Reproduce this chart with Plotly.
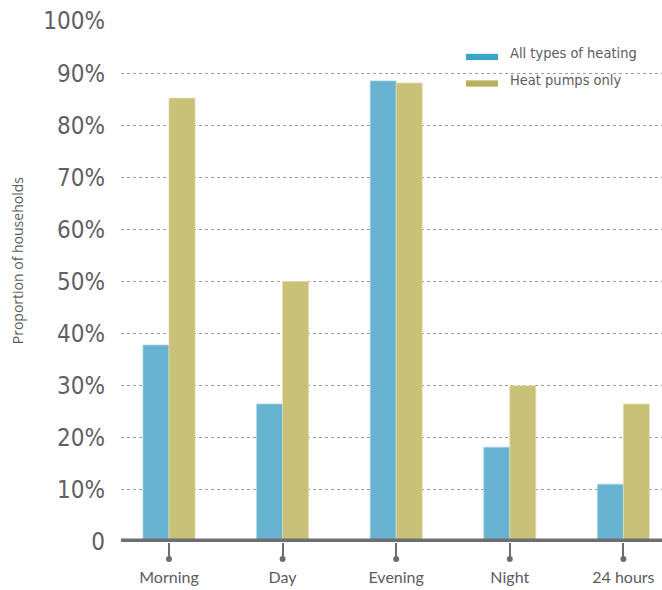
import plotly.graph_objects as go

categories = ["Morning", "Day", "Evening", "Night", "24 hours"]
all_heating = [37.8, 26.5, 88.5, 18.2, 11.1]
heat_pumps = [85.2, 50.0, 88.1, 30.0, 26.5]
series_names = ["All types of heating", "Heat pumps only"]
y_tickvals = [0, 10, 20, 30, 40, 50, 60, 70, 80, 90, 100]
y_ticktext = ["0", "10%", "20%", "30%", "40%", "50%", "60%", "70%", "80%", "90%", "100%"]

BAR_BLUE = "#67b3d1"
BAR_OLIVE = "#c8c177"
KEY_BLUE = "#3ca6c9"
KEY_OLIVE = "#b9b05c"
AXIS_GREY = "#6d6e71"
TEXT_GREY = "#5b5c5e"
COND = "Liberation Sans Narrow, DejaVu Sans Condensed, Roboto, sans-serif"

fig = go.Figure()
fig.add_trace(go.Bar(x=categories, y=all_heating, name=series_names[0],
                     marker=dict(color=BAR_BLUE, line=dict(color="#a9d4e6", width=0.8))))
fig.add_trace(go.Bar(x=categories, y=heat_pumps, name=series_names[1],
                     marker=dict(color=BAR_OLIVE, line=dict(color="#e2dcae", width=0.8))))

fig.update_layout(
    width=662, height=590,
    margin=dict(l=121, r=0, t=21, b=48),
    paper_bgcolor="white", plot_bgcolor="white",
    barmode="group", bargap=0.542, bargroupgap=0,
    showlegend=False,
)
fig.update_xaxes(
    type="category", range=[-0.4225, 4.34],
    showgrid=False, zeroline=False, showline=False,
    ticks="outside", ticklen=17, tickwidth=1.5, tickcolor=AXIS_GREY,
    tickfont=dict(family="Lato, Open Sans, sans-serif", size=16, color=TEXT_GREY),
    ticklabelstandoff=4,
)
fig.update_yaxes(
    range=[0, 100], tickvals=y_tickvals, ticktext=y_ticktext,
    showgrid=True, gridcolor="#9a9a9a", gridwidth=1, griddash="dot",
    zeroline=False, showline=False, ticks="",
    tickfont=dict(family=COND, size=24, color="#606163"),
    ticklabelstandoff=15,
)
# thick baseline
fig.add_shape(type="line", xref="paper", yref="y", x0=0, x1=1, y0=0, y1=0,
              line=dict(color=AXIS_GREY, width=7), layer="above")
# dots at the ends of the category tick marks
for i, _ in enumerate(categories):
    fig.add_shape(type="circle", xref="x", yref="paper",
                  xsizemode="pixel", ysizemode="pixel", xanchor=i, yanchor=-17 / 521,
                  x0=-3, x1=3, y0=-3, y1=3,
                  fillcolor=AXIS_GREY, line=dict(width=0), layer="above")

# y-axis title
fig.add_annotation(text="Proportion of households", xref="paper", yref="paper",
                   x=-0.1922, y=0.539, textangle=-90, showarrow=False,
                   xanchor="center", yanchor="middle",
                   font=dict(family="Open Sans, Lato, sans-serif", size=14, color=TEXT_GREY))

# custom legend with wide flat keys
key_colors = [KEY_BLUE, KEY_OLIVE]
key_y = [0.931, 0.88]
for name, col, ky in zip(series_names, key_colors, key_y):
    fig.add_shape(type="rect", xref="paper", yref="paper",
                  x0=(466 - 121) / 541, x1=(498 - 121) / 541,
                  y0=ky - 0.006, y1=ky + 0.006,
                  fillcolor=col, line=dict(width=0))
    fig.add_annotation(text=name, xref="paper", yref="paper",
                       x=(508 - 121) / 541, y=ky + 0.007, xanchor="left", yanchor="middle",
                       showarrow=False,
                       font=dict(family=COND, size=14.5, color=TEXT_GREY))

fig.write_html("out.html")
